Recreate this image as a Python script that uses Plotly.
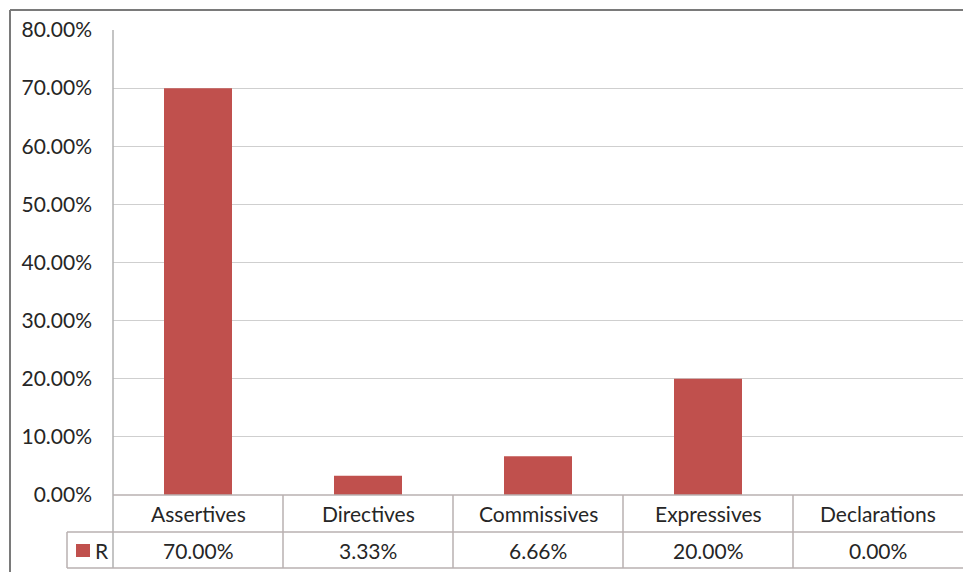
import plotly.graph_objects as go

categories = ["Assertives", "Directives", "Commissives", "Expressives", "Declarations"]
values = [0.70, 0.0333, 0.0666, 0.20, 0.0]
series_name = "R"

W, H = 963, 572
BAR = "#c0504d"
FONT = "Lato"
FS = 21
TXT = "#262626"

def py(pix):
    return 1 - pix / H

def px(pix):
    return pix / W

fig = go.Figure()
fig.add_trace(go.Bar(
    x=categories, y=values, marker=dict(color=BAR, line=dict(width=0)),
    width=0.4, showlegend=False, hoverinfo="skip",
))

x_left, x_right = 113, 963
y_top, y_zero = 30, 495
row1, row2 = 532, 568

fig.update_layout(
    template="none",
    width=W, height=H, margin=dict(l=0, r=0, t=0, b=0, pad=0, autoexpand=False),
    paper_bgcolor="white", plot_bgcolor="white",
    xaxis=dict(domain=[px(x_left), px(x_right)], range=[-0.5, 4.5],
               showticklabels=False, showgrid=False, zeroline=False,
               showline=False, fixedrange=True, automargin=False),
    yaxis=dict(domain=[py(y_zero), py(y_top)], range=[0, 0.8],
               tickvals=[i / 10 for i in range(9)], tickformat=".2%",
               showgrid=True, gridcolor="#cfcfcf", gridwidth=1,
               zeroline=False, showline=False, ticks="",
               ticklabelstandoff=20, automargin=False,
               tickfont=dict(family=FONT, size=FS, color=TXT)),
    font=dict(family=FONT),
)

shapes = []
LC = "#b9b0b0"
def line(x0, y0, x1, y1, color=LC, w=1.5):
    shapes.append(dict(type="line", xref="paper", yref="paper",
                       x0=px(x0), y0=py(y0), x1=px(x1), y1=py(y1),
                       line=dict(color=color, width=w)))

# outer chart border
line(10, 10, 963, 10, "#7a7a7a", 2)
line(10, 10, 10, 572, "#7a7a7a", 2)
# plot area left edge and table
line(x_left, y_top, x_left, row2, "#b0b0b0", 1.5)
line(x_left, y_zero, x_right, y_zero)
line(67, row1, x_right, row1)
line(67, row2, x_right, row2)
line(67, row1, 67, row2)
colw = (x_right - x_left) / len(categories)
for i in range(1, len(categories)):
    xx = x_left + colw * i
    line(xx, y_zero, xx, row2)
# legend key
shapes.append(dict(type="rect", xref="paper", yref="paper",
                   x0=px(76), x1=px(90), y0=py(557), y1=py(544),
                   fillcolor=BAR, line=dict(width=0)))

annotations = []
for c, v in zip(categories, values):
    annotations.append(dict(x=c, xref="x", y=py((y_zero + row1) / 2), yref="paper",
                            text=c, showarrow=False, yanchor="middle",
                            font=dict(family=FONT, size=FS, color=TXT)))
    annotations.append(dict(x=c, xref="x", y=py((row1 + row2) / 2), yref="paper",
                            text=f"{v*100:.2f}%", showarrow=False, yanchor="middle",
                            font=dict(family=FONT, size=FS, color=TXT)))
annotations.append(dict(x=px(93), xref="paper", y=py((row1 + row2) / 2), yref="paper",
                        text=series_name, showarrow=False, xanchor="left", yanchor="middle",
                        font=dict(family=FONT, size=FS, color=TXT)))

fig.update_layout(shapes=shapes, annotations=annotations)
fig.write_html("out.html")
